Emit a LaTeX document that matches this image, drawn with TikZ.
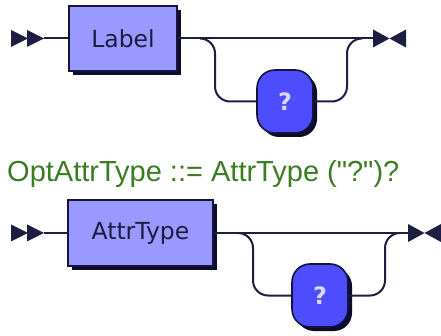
\documentclass[tikz,border=0pt]{standalone}
\usepackage{fontspec}
\usetikzlibrary{shadows,calc}
\newfontfamily\titlefont{Liberation Sans}
\newfontfamily\boxfont{DejaVu Sans}
\definecolor{linecol}{RGB}{30,30,66}
\definecolor{edgecol}{RGB}{20,20,60}
\definecolor{ntfill}{RGB}{153,153,255}
\definecolor{tfill}{RGB}{77,77,255}
\definecolor{shadowcol}{RGB}{12,12,44}
\definecolor{ntext}{RGB}{28,28,66}
\definecolor{ttext}{RGB}{215,215,255}
\definecolor{ruletext}{RGB}{60,124,34}
\tikzset{
  wire/.style={draw=linecol, line width=2pt},
  loopwire/.style={wire, rounded corners=15pt},
  boxshadow/.style={general shadow={fill=shadowcol, shadow xshift=4pt, shadow yshift=-4pt}},
  nonterm/.style={draw=edgecol, line width=1.6pt, fill=ntfill, boxshadow,
    inner sep=0pt, text=ntext, font=\boxfont\fontsize{23.5}{26}\selectfont,
    minimum height=65pt},
  term/.style={draw=edgecol, line width=1.6pt, fill=tfill, boxshadow,
    rounded corners=18pt, inner sep=0pt, text=ttext,
    font=\boxfont\bfseries\fontsize{24}{26}\selectfont,
    minimum width=56pt, minimum height=63pt},
  startmark/.pic={
    \fill[linecol] (0,-8.5) -- (17,0) -- (0,8.5) -- cycle;
    \fill[linecol] (16,-8.5) -- (33,0) -- (16,8.5) -- cycle;
  },
  endmark/.pic={
    \fill[linecol] (0,-9) -- (16.5,0) -- (0,9) -- cycle;
    \fill[linecol] (33,-9) -- (16.5,0) -- (33,9) -- cycle;
  }
}
\begin{document}
\begin{tikzpicture}[x=1pt, y=-1pt]
\useasboundingbox (0,0) rectangle (441,336);

% ---- Label ----
\coordinate (s1) at (11,38.5);
\coordinate (s1end) at (44,38.5);
\coordinate (e1) at (373,38.5);
\coordinate (j1) at (200,38.5);
\coordinate (k1) at (362,38.5);
\coordinate (d1) at (215,0);
\coordinate (r1) at (347,0);

\draw[wire] (s1end) -- (123,38.5);
\node[nonterm, minimum width=108pt] (lbl) at (123,38.5) {Label};
\draw[wire] (lbl.east) -- (e1);
\node[term] (q1) at (285,101.5) {?};
\draw[loopwire] (j1) -| (d1 |- q1.west) -- (q1.west);
\draw[loopwire] (q1.east) -| (r1 |- k1) -- (k1);
\pic at (s1) {startmark};
\pic at (e1) {endmark};

% ---- rule text ----
\node[anchor=base west, inner sep=0pt, text=ruletext,
      font=\titlefont\fontsize{29}{32}\selectfont] (rule) at (7,182)
      {OptAttrType ::= AttrType ("?")?};

% ---- AttrType ----
\coordinate (s2) at (11,233);
\coordinate (s2end) at (44,233);
\coordinate (e2) at (408,233);
\coordinate (j2) at (238,233);
\coordinate (k2) at (400,233);
\coordinate (d2) at (253,0);
\coordinate (r2) at (385,0);

\draw[wire] (s2end) -- (140.5,233);
\node[nonterm, minimum width=145pt, minimum height=66pt] (atype) at (140.5,233) {AttrType};
\draw[wire] (atype.east) -- (e2);
\node[term] (q2) at (320,295.5) {?};
\draw[loopwire] (j2) -| (d2 |- q2.west) -- (q2.west);
\draw[loopwire] (q2.east) -| (r2 |- k2) -- (k2);
\pic at (s2) {startmark};
\pic at (e2) {endmark};
\end{tikzpicture}
\end{document}
